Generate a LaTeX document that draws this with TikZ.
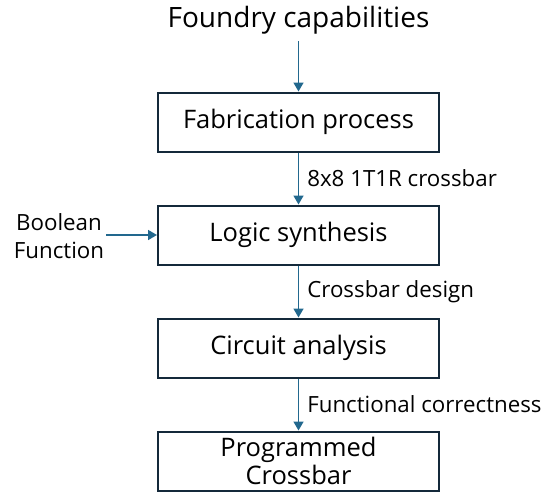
\documentclass[tikz,border=0pt]{standalone}
\usepackage{fontspec}
\setmainfont{Open Sans}
\usetikzlibrary{arrows.meta, positioning}
\definecolor{boxline}{HTML}{14293A}
\definecolor{flowline}{HTML}{22688E}

\begin{document}
\begin{tikzpicture}[x=1pt, y=-1pt,
  stage/.style={draw=boxline, line width=2pt, minimum width=281pt, minimum height=59pt,
    align=center, font=\fontsize{25.5}{28}\selectfont},
  flow/.style={draw=flowline, line width=1.6pt, -{Triangle[length=9pt, width=10pt]}},
  tag/.style={font=\fontsize{22.3}{24}\selectfont, inner sep=0pt}]
% Fix the page to the size of the reference
\useasboundingbox (0,0) rectangle (553,493);
% Input from the foundry at the top
\node (foundry) [anchor=base, font=\fontsize{28}{30}\selectfont, inner sep=0pt] at (298.5,27) {Foundry capabilities};
\coordinate (top) at (298.5,41);
% The four stages, one below the other
\node (fab) [stage] at (298.5,122) {Fabrication process};
\node (logic) [stage, below=52pt of fab] {Logic synthesis};
\node (circuit) [stage, below=52pt of logic] {Circuit analysis};
\node (prog) [stage, below=52pt of circuit, font=\fontsize{25.5}{28}\selectfont] {Programmed\\Crossbar};
% Side input on the left
\node (bool) [align=center, font=\fontsize{22.3}{28}\selectfont, inner sep=0pt] at (59,236) {Boolean\\Function};
% Arrows with their labels
\draw [flow] (top) -- (fab);
\draw [flow] (fab) -- node [tag, right=8pt] {8x8 1T1R crossbar} (logic);
\draw [flow] (logic) -- node [tag, right=8pt] {Crossbar design} (circuit);
\draw [flow] (circuit) -- node [tag, right=8pt] {Functional correctness} (prog);
\draw [flow] (bool.east |- logic.west) ++(2pt,0) coordinate (boolout) (boolout) -- (logic.west);
\end{tikzpicture}
\end{document}
